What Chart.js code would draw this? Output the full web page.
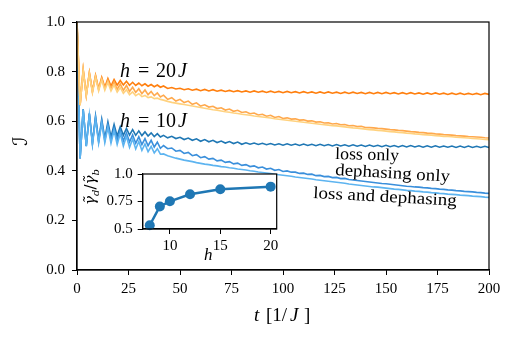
<!DOCTYPE html>
<html><head><meta charset="utf-8">
<script src="https://cdn.jsdelivr.net/npm/chart.js@4/dist/chart.umd.min.js"></script>
<style>
html,body{margin:0;padding:0;background:#fff;}
#wrap{position:relative;width:517px;height:342px;overflow:hidden;}
#main{position:absolute;left:0;top:0;}
#inset{position:absolute;left:80px;top:160px;}
</style></head><body>
<div id="wrap"><canvas id="main" width="517" height="342"></canvas><canvas id="inset" width="205" height="110"></canvas></div>
<script>
// time grid t [1/J]
const T = [0,1.5,3,4.5,6,7.5,9,10.5,12,13.5,15,16.5,18,19.5,21,22.5,24,25.5,27,28.5,30,31.5,33,34.5,36,37.5,39,40.5,42,
44,46,48,50,52,54,56,58,60,62,64,66,68,70,72,74,76,78,80,82,84,86,88,90,92,94,96,98,100,
102,104,106,108,110,112,114,116,118,120,122,124,126,128,130,132,134,136,138,140,
142,144,146,148,150,152,154,156,158,160,162,164,166,168,170,172,174,176,178,180,
182,184,186,188,190,192,194,196,198,200];

// h = 20J
const h20LossOnly = [
1.0,.665,.808,.705,.795,.72,.785,.73,.777,.737,
.772,.742,.768,.745,.764,.746,.761,.745,.757,.744,
.754,.743,.751,.741,.748,.739,.746,.737,.742,
.732,.736,.730,.733,.727,.731,.725,.729,.723,
.728,.722,.727,.721,.725,.720,.724,.719,.723,.718,
.722,.717,.722,.717,.721,.716,.721,.716,.720,.715,
.720,.715,.719,.714,.719,.714,.718,.713,.718,.713,
.718,.713,.717,.712,.717,.712,.717,.712,.716,.711,
.716,.711,.716,.711,.716,.711,.715,.710,.715,.710,
.715,.710,.714,.709,.714,.709,.714,.709,.713,.708,
.713,.708,.713,.708,.712,.708,.712,.707,.712,.708];
const h20DephOnly = [
1.0,.665,.808,.705,.795,.72,.783,.728,.773,.732,
.765,.732,.758,.728,.75,.724,.744,.72,.737,.716,
.731,.711,.726,.707,.72,.703,.714,.698,.705,
.688,.695,.681,.688,.675,.681,.668,.674,.661,
.666,.657,.660,.651,.654,.645,.649,.640,.644,.635,
.638,.630,.633,.625,.628,.620,.624,.615,.619,.611,
.6135,.6085,.6095,.6045,.6055,.6005,.6015,.5965,.5975,.5925,
.5935,.5885,.5905,.5855,.5865,.5815,.5825,.5785,.5795,.5745,
.574,.573,.571,.570,.568,.566,.565,.563,.562,.560,
.558,.557,.555,.554,.552,.551,.549,.548,.546,.545,
.544,.542,.541,.540,.538,.537,.536,.535,.533,.532];
const h20LossDeph = [
1.0,.665,.805,.703,.79,.715,.778,.722,.767,.725,
.757,.722,.746,.717,.736,.712,.727,.707,.718,.703,
.711,.699,.704,.695,.698,.691,.693,.688,.685,
.680,.676,.673,.670,.667,.664,.661,.658,.655,
.652,.649,.646,.644,.641,.638,.636,.633,.631,.628,
.626,.624,.621,.619,.617,.615,.613,.610,.608,.606,
.604,.602,.600,.598,.596,.594,.592,.590,.588,.586,
.584,.582,.581,.579,.577,.575,.573,.572,.570,.568,
.566,.565,.563,.562,.560,.558,.557,.555,.554,.552,
.551,.549,.548,.546,.545,.544,.542,.541,.539,.538,
.537,.535,.534,.533,.532,.530,.529,.528,.526,.525];

// h = 10J
const h10LossOnly = [
1.0,.45,.648,.50,.632,.512,.62,.522,.608,.53,
.597,.536,.587,.54,.578,.543,.571,.544,.566,.543,
.561,.542,.557,.540,.553,.538,.550,.536,.543,
.533,.539,.530,.535,.526,.532,.523,.529,.519,
.526,.517,.523,.514,.520,.512,.518,.510,.516,.507,
.513,.507,.512,.506,.511,.505,.510,.504,.509,.503,
.509,.503,.508,.502,.508,.502,.507,.501,.507,.501,
.506,.500,.506,.500,.505,.499,.505,.499,.504,.498,
.504,.498,.503,.497,.503,.497,.502,.496,.502,.496,
.502,.496,.501,.495,.501,.495,.501,.495,.500,.495,
.500,.494,.500,.494,.500,.494,.499,.494,.499,.494];
const h10DephOnly = [
1.0,.45,.648,.50,.63,.51,.615,.518,.60,.522,
.585,.524,.572,.523,.562,.52,.553,.516,.545,.511,
.537,.506,.53,.501,.523,.496,.516,.491,.502,
.489,.492,.479,.482,.470,.474,.461,.465,.453,
.457,.447,.450,.440,.443,.434,.437,.428,.431,.422,
.425,.417,.420,.412,.415,.407,.410,.402,.405,.397,
.3995,.3945,.3945,.3895,.3905,.3855,.3865,.3805,.3815,.3765,
.3775,.3725,.3735,.3685,.3695,.365,.363,.361,.359,.357,
.355,.353,.351,.349,.348,.346,.344,.342,.340,.338,
.337,.335,.334,.332,.331,.329,.328,.326,.325,.323,
.322,.320,.319,.317,.316,.315,.313,.312,.310,.309];
const h10LossDeph = [
1.0,.45,.646,.498,.625,.506,.608,.512,.592,.513,
.576,.511,.562,.506,.55,.50,.539,.494,.528,.488,
.518,.482,.508,.477,.498,.472,.489,.467,.468,
.461,.456,.451,.447,.443,.440,.437,.433,.430,
.427,.425,.422,.420,.417,.415,.412,.410,.407,.405,
.403,.400,.398,.395,.393,.391,.389,.386,.384,.382,
.380,.378,.375,.373,.371,.369,.367,.364,.362,.360,
.358,.356,.354,.352,.350,.347,.345,.343,.341,.339,
.337,.335,.334,.332,.330,.328,.326,.325,.323,.321,
.320,.318,.317,.315,.314,.312,.311,.309,.308,.306,
.305,.304,.302,.301,.300,.298,.297,.296,.294,.293];

// inset
const insetH = [8, 9, 10, 12, 15, 20];
const insetRatio = [0.534, 0.705, 0.752, 0.816, 0.862, 0.885];

const yTickLabels = ['0.0','0.2','0.4','0.6','0.8','1.0'];
const insetYTicks = [0.5, 0.625, 0.75, 0.875, 1.0];
const insetYLabels = {0.5:'0.5', 0.75:'0.75', 1.0:'1.0'};
const insetXTicks = [10, 15, 20];

const pts = arr => T.map((t, i) => ({x: t, y: arr[i]}));
const SERIF = '"Liberation Serif", "DejaVu Serif", serif';

function ds(arr, color) {
  return {data: pts(arr), borderColor: color, backgroundColor: color, borderWidth: 1.6,
          pointRadius: 0, tension: 0, fill: false};
}

function pieces(ctx, y, list, size) {
  ctx.textBaseline = 'alphabetic';
  ctx.textAlign = 'left';
  for (const p of list) {
    ctx.font = (p.i ? 'italic ' : '') + size + 'px ' + SERIF;
    ctx.fillText(p.t, p.x, y);
  }
}

const mainDecor = {
  id: 'mainDecor',
  afterDraw(chart) {
    const {ctx, chartArea: a} = chart;
    ctx.save();
    ctx.strokeStyle = '#000';
    ctx.lineWidth = 1.2;
    ctx.strokeRect(a.left, a.top, a.right - a.left, a.bottom - a.top);
    ctx.fillStyle = '#000';
    pieces(ctx, 77, [{t:'h',x:120,i:1},{t:'=',x:138},{t:'20',x:156},{t:'J',x:178,i:1}], 20);
    pieces(ctx, 127, [{t:'h',x:120,i:1},{t:'=',x:138},{t:'10',x:156},{t:'J',x:178,i:1}], 20);
    const lab = (txt, x, y, deg, sx) => {
      ctx.save();
      ctx.translate(x, y);
      ctx.rotate(deg * Math.PI / 180);
      ctx.scale(sx, 1);
      ctx.font = '17px ' + SERIF;
      ctx.textAlign = 'left';
      ctx.textBaseline = 'alphabetic';
      ctx.fillText(txt, 0, 0);
      ctx.restore();
    };
    lab('loss only', 335, 159, 1.5, 1.05);
    lab('dephasing only', 335, 175, 3.3, 1.11);
    lab('loss and dephasing', 313, 198, 3.1, 1.12);
    pieces(ctx, 321, [{t:'t',x:254,i:1},{t:'[1/',x:266},{t:'J',x:290,i:1},{t:']',x:304}], 19);
    ctx.save();
    ctx.translate(27, 141);
    ctx.rotate(-Math.PI / 2);
    ctx.font = 'italic 20px "DejaVu Serif", "DejaVu Sans", serif';
    ctx.textAlign = 'center';
    ctx.textBaseline = 'alphabetic';
    ctx.fillText('\u2110', 0, 0);
    ctx.restore();
    ctx.restore();
  }
};

new Chart(document.getElementById('main'), {
  type: 'line',
  data: {datasets: [
    ds(h20LossDeph, '#ffd27f'),
    ds(h20DephOnly, '#ffa94d'),
    ds(h20LossOnly, '#ff7f0e'),
    ds(h10LossDeph, '#5db4f0'),
    ds(h10DephOnly, '#3a8fdb'),
    ds(h10LossOnly, '#1f77b4')
  ]},
  options: {
    responsive: false, animation: false, devicePixelRatio: 1,
    layout: {padding: {top: 22, right: 28, left: 0, bottom: 0}},
    plugins: {legend: {display: false}, tooltip: {enabled: false}},
    scales: {
      x: {type: 'linear', min: 0, max: 200,
          ticks: {stepSize: 25, color: '#000', font: {family: SERIF, size: 15}, padding: 5, maxRotation: 0},
          grid: {drawOnChartArea: false, tickLength: 5, color: '#000', lineWidth: 1},
          border: {color: '#000', width: 1.2},
          afterFit(s) { s.height = 72; }},
      y: {type: 'linear', min: 0, max: 1,
          ticks: {stepSize: 0.2, color: '#000', font: {family: SERIF, size: 15}, padding: 7,
                  callback: (v) => yTickLabels[Math.round(v * 5)]},
          grid: {drawOnChartArea: false, tickLength: 5, color: '#000', lineWidth: 1},
          border: {color: '#000', width: 1.2},
          afterFit(s) { s.width = 77; }}
    }
  },
  plugins: [mainDecor]
});

const insetDecor = {
  id: 'insetDecor',
  beforeDraw(chart) {
    const {ctx, chartArea: a} = chart;
    ctx.save();
    ctx.fillStyle = '#fff';
    ctx.fillRect(a.left, a.top, a.right - a.left, a.bottom - a.top);
    ctx.restore();
  },
  afterDraw(chart) {
    const {ctx, chartArea: a} = chart;
    ctx.save();
    ctx.strokeStyle = '#000';
    ctx.lineWidth = 1.2;
    ctx.strokeRect(a.left, a.top, a.right - a.left, a.bottom - a.top);
    ctx.fillStyle = '#000';
    pieces(ctx, 100, [{t:'h',x:124,i:1}], 17);
    // y title: gamma~_d / gamma~_b
    ctx.translate(15, 27);
    ctx.rotate(-Math.PI / 2);
    ctx.textBaseline = 'alphabetic';
    ctx.textAlign = 'left';
    const big = 'italic 15px "DejaVu Serif", serif';
    const sub = 'italic 10px "DejaVu Serif", serif';
    const rom = '15px "DejaVu Serif", serif';
    const parts = [['\u03b3\u0303', big, 0], ['d', sub, 4], ['/', rom, 0], ['\u03b3\u0303', big, 0], ['b', sub, 4]];
    let w = 0;
    for (const p of parts) { ctx.font = p[1]; w += ctx.measureText(p[0]).width; }
    let x = -w / 2;
    for (const p of parts) { ctx.font = p[1]; ctx.fillText(p[0], x, p[2]); x += ctx.measureText(p[0]).width; }
    ctx.restore();
  }
};

new Chart(document.getElementById('inset'), {
  type: 'line',
  data: {datasets: [{
    data: insetH.map((h, i) => ({x: h, y: insetRatio[i]})),
    borderColor: '#1f77b4', backgroundColor: '#1f77b4', borderWidth: 2.5,
    pointRadius: 5, pointBorderWidth: 0, tension: 0, clip: false
  }]},
  options: {
    responsive: false, animation: false, devicePixelRatio: 1,
    layout: {padding: {top: 10, right: 8.3, left: 0, bottom: 0}},
    plugins: {legend: {display: false}, tooltip: {enabled: false}},
    scales: {
      x: {type: 'linear', min: 7.3, max: 20.6,
          afterBuildTicks(s) { s.ticks = insetXTicks.map(v => ({value: v})); },
          ticks: {color: '#000', font: {family: SERIF, size: 15}, padding: 3, maxRotation: 0,
                  callback: v => String(v)},
          grid: {drawOnChartArea: false, tickLength: 5, color: '#000', lineWidth: 1},
          border: {color: '#000', width: 1.2},
          afterFit(s) { s.height = 41; }},
      y: {type: 'linear', min: 0.5, max: 1.0,
          afterBuildTicks(s) { s.ticks = insetYTicks.map(v => ({value: v})); },
          ticks: {color: '#000', font: {family: SERIF, size: 15}, padding: 5,
                  callback: v => insetYLabels[v] || ''},
          grid: {drawOnChartArea: false, tickLength: 5, color: '#000', lineWidth: 1},
          border: {color: '#000', width: 1.2},
          afterFit(s) { s.width = 62.7; }}
    }
  },
  plugins: [insetDecor]
});
</script>
</body></html>
